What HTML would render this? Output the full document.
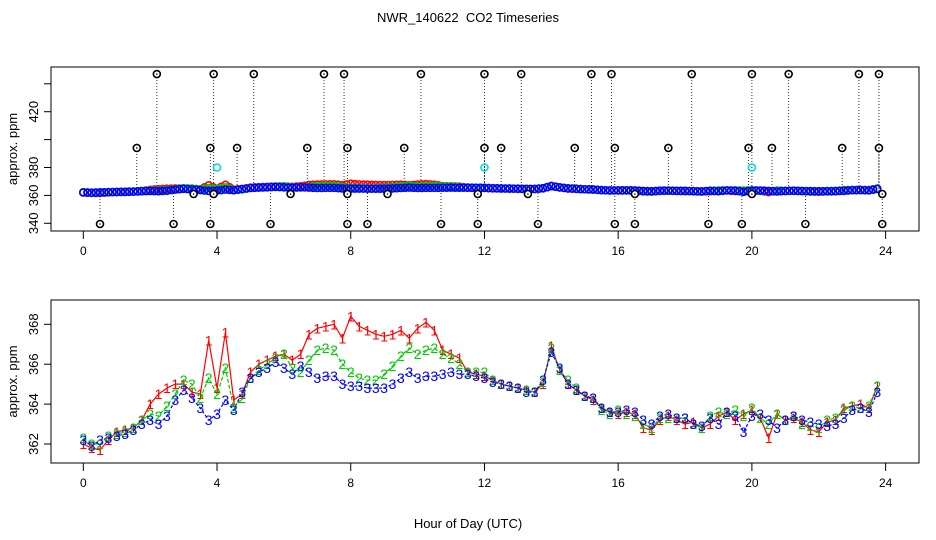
<!DOCTYPE html>
<html><head><meta charset="utf-8"><style>
html,body{margin:0;padding:0;background:#fff;}
svg{display:block;font-family:"Liberation Sans",sans-serif;}
</style></head><body>
<svg id="chart" width="936" height="540" viewBox="0 0 936 540" xmlns="http://www.w3.org/2000/svg">
<text x="468" y="22" text-anchor="middle" font-size="13" style="white-space:pre">NWR_140622&#160; CO2 Timeseries</text>
<g id="topPanel"></g>
<g id="botPanel"></g>
<text x="468" y="528" text-anchor="middle" font-size="13">Hour of Day (UTC)</text>
</svg>
<script>
const s3 = [362.2,361.9,362.2,362.3,362.4,362.5,362.7,363.0,363.2,363.0,363.4,364.2,364.7,364.3,363.8,363.2,363.5,364.2,363.7,364.6,365.3,365.6,365.8,366.1,365.8,365.5,365.9,365.6,365.3,365.4,365.4,365.0,364.9,364.9,364.8,364.8,364.8,365.0,365.3,365.6,365.3,365.4,365.4,365.5,365.6,365.5,365.5,365.4,365.3,365.1,365.0,364.9,364.8,364.6,364.6,365.2,366.6,365.8,365.0,364.7,364.4,364.3,363.8,363.6,363.6,363.7,363.6,363.2,363.0,363.4,363.5,363.3,363.3,363.0,362.9,363.3,363.0,363.6,363.4,362.6,363.4,363.5,363.2,362.8,363.2,363.4,363.2,363.1,363.0,362.9,363.0,363.3,363.7,363.8,363.6,364.6];
const s1 = [362.0,361.8,361.7,362.2,362.6,362.7,362.8,363.2,364.0,364.5,364.8,365.0,365.0,364.6,364.5,367.2,364.8,367.6,364.2,364.5,365.6,366.0,366.2,366.4,366.5,366.2,366.5,367.5,367.8,367.9,368.0,367.3,368.4,367.9,367.7,367.5,367.4,367.5,367.7,367.3,367.8,368.1,367.7,366.7,366.5,366.3,365.6,365.5,365.4,365.2,365.0,364.9,364.8,364.7,364.6,365.0,366.9,365.7,365.0,364.7,364.4,364.2,363.8,363.6,363.5,363.6,363.5,362.8,362.7,363.2,363.4,363.2,363.0,363.1,362.8,363.0,363.4,363.6,363.2,363.5,363.7,363.3,362.3,363.5,363.2,363.3,363.1,362.7,362.6,363.1,363.2,363.8,363.9,364.0,363.8,364.9];
const s2 = [362.3,362.0,362.0,362.4,362.5,362.6,362.8,363.2,363.5,363.4,363.9,364.5,365.2,365.0,364.3,365.3,364.5,365.8,363.8,364.3,365.3,365.7,366.0,366.3,366.5,365.8,365.6,366.2,366.7,366.8,366.7,366.0,365.6,365.3,365.2,365.2,365.5,365.9,366.4,366.8,366.5,366.7,366.8,366.5,366.3,366.0,365.6,365.6,365.6,365.2,365.0,364.9,364.8,364.7,364.6,365.1,366.8,365.7,365.2,364.8,364.4,364.3,363.7,363.5,363.7,363.5,363.4,363.0,362.8,363.3,363.3,363.3,363.3,363.0,362.8,363.4,363.6,363.5,363.7,363.4,363.8,363.3,363.0,363.5,363.2,363.4,363.0,362.9,362.8,363.2,363.3,363.7,363.9,363.8,363.9,364.9];
const hours = s3.map((_, i) => i * 0.25);
const outHours = [2.2,3.9,5.1,7.2,7.8,10.1,12.0,13.1,15.2,15.8,18.2,20.0,21.1,23.2,23.8, 1.6,3.8,4.6,6.7,7.9,9.6,12.0,12.5,14.7,15.9,17.5,19.9,20.6,22.7,23.8, 0.5,2.7,3.8,5.6,7.9,8.5,10.7,11.8,13.6,15.9,16.5,18.7,19.7,21.6,23.9, 3.3,3.9,6.2,7.9,9.1,11.8,13.3,16.5,20.0,23.9];
const outVals = [447,447,447,447,447,447,447,447,447,447,447,447,447,447,447, 394,394,394,394,394,394,394,394,394,394,394,394,394,394,394, 339.5,339.5,339.5,339.5,339.5,339.5,339.5,339.5,339.5,339.5,339.5,339.5,339.5,339.5,339.5, 361,361,361,361,361,361,361,361,361,361];
const cyanHours = [4.0,12.0,20.0];
const cyanVals = [380,380,380];
const xTicks = [0,4,8,12,16,20,24];
const topTicks = [340,360,380,400,420,440];
const topTickLabels = ["340","360","380","","420",""];
const botTicks = [362,364,366,368];

const NS = "http://www.w3.org/2000/svg";
function mk(parent, tag, attrs){const e=document.createElementNS(NS,tag);for(const k in attrs)e.setAttribute(k,attrs[k]);parent.appendChild(e);return e;}
const X = h => 83.3 + h * 33.43;
const Yt = v => 223.3 - (v - 340) * 1.395;
const Yb = v => 444 - (v - 362) * 19.95;

function frame(g, y0, y1, Y, ticks, labels, prefix){
  const r = mk(g,'rect',{x:51,y:y0,width:868,height:y1-y0,fill:'none',stroke:'#000','stroke-width':1});
  
  
  xTicks.forEach(t=>{
    mk(g,'line',{x1:X(t),x2:X(t),y1:y1,y2:y1+8,stroke:'#000'});
    const tx = mk(g,'text',{x:X(t),y:y1+24,'text-anchor':'middle','font-size':12}); tx.textContent=t;
    
    
  });
  ticks.forEach((t,i)=>{
    const y=Y(t);
    mk(g,'line',{x1:44,x2:51,y1:y,y2:y,stroke:'#000'});
    if(labels[i]){
      const tx=mk(g,'text',{x:0,y:0,'text-anchor':'middle','font-size':13,transform:`translate(38,${y}) rotate(-90)`}); tx.textContent=labels[i];
      
      
    }
  });
  const yl=mk(g,'text',{x:0,y:0,'text-anchor':'middle','font-size':13,transform:`translate(17,${(y0+y1)/2}) rotate(-90)`}); yl.textContent='approx. ppm';
  
  
}

const topG = document.getElementById('topPanel');
frame(topG, 67, 231, Yt, topTicks, topTickLabels, 'top');
outHours.forEach((h,i)=>{
  const l=mk(topG,'line',{x1:X(h),x2:X(h),y1:Yt(outVals[i]),y2:Yt(363),stroke:'#000','stroke-width':0.8,'stroke-dasharray':'1,2'});
  
  
});
const cols=['#ff0000','#00cc00','#0000ff'];
[s1,s2,s3].forEach((s,k)=>{
  s.forEach((v,i)=>{
    const c=mk(topG,'circle',{cx:X(hours[i]),cy:Yt(v),r:3.5,fill:'none',stroke:cols[k],'stroke-width':1.6});
    
    
    if(i<s.length-1){
      const c2=mk(topG,'circle',{cx:X(hours[i]+0.125),cy:Yt((v+s[i+1])/2),r:3.5,fill:'none',stroke:cols[k],'stroke-width':1.6});
      
      
    }
  });
});
outHours.forEach((h,i)=>{
  const c=mk(topG,'circle',{cx:X(h),cy:Yt(outVals[i]),r:3.5,fill:'#fff',stroke:'#000','stroke-width':1.6});
  
  
  mk(topG,'circle',{cx:X(h),cy:Yt(outVals[i]),r:0.8,fill:'#000'});
});
cyanHours.forEach((h,i)=>{
  const c=mk(topG,'circle',{cx:X(h),cy:Yt(cyanVals[i]),r:3.5,fill:'none',stroke:'#00dddd','stroke-width':1.6});
  
  
});

const botG = document.getElementById('botPanel');
frame(botG, 300, 463, Yb, botTicks, botTicks.map(String), 'bottom');
const dash=['', '4,2', '3,2'];
[s1,s2,s3].forEach((s,k)=>{
  const pts=s.map((v,i)=>X(hours[i]).toFixed(1)+','+Yb(v).toFixed(1)).join(' ');
  const pl=mk(botG,'polyline',{points:pts,fill:'none',stroke:cols[k],'stroke-width':1.2});
  if(dash[k]) pl.setAttribute('stroke-dasharray',dash[k]);
  
  
});
[s1,s2,s3].forEach((s,k)=>{
  s.forEach((v,i)=>{
    const t=mk(botG,'text',{x:X(hours[i]),y:Yb(v)+5,'text-anchor':'middle','font-size':14,fill:cols[k]});
    t.textContent=String(k+1);
    
    
  });
});
</script>
</body></html>
